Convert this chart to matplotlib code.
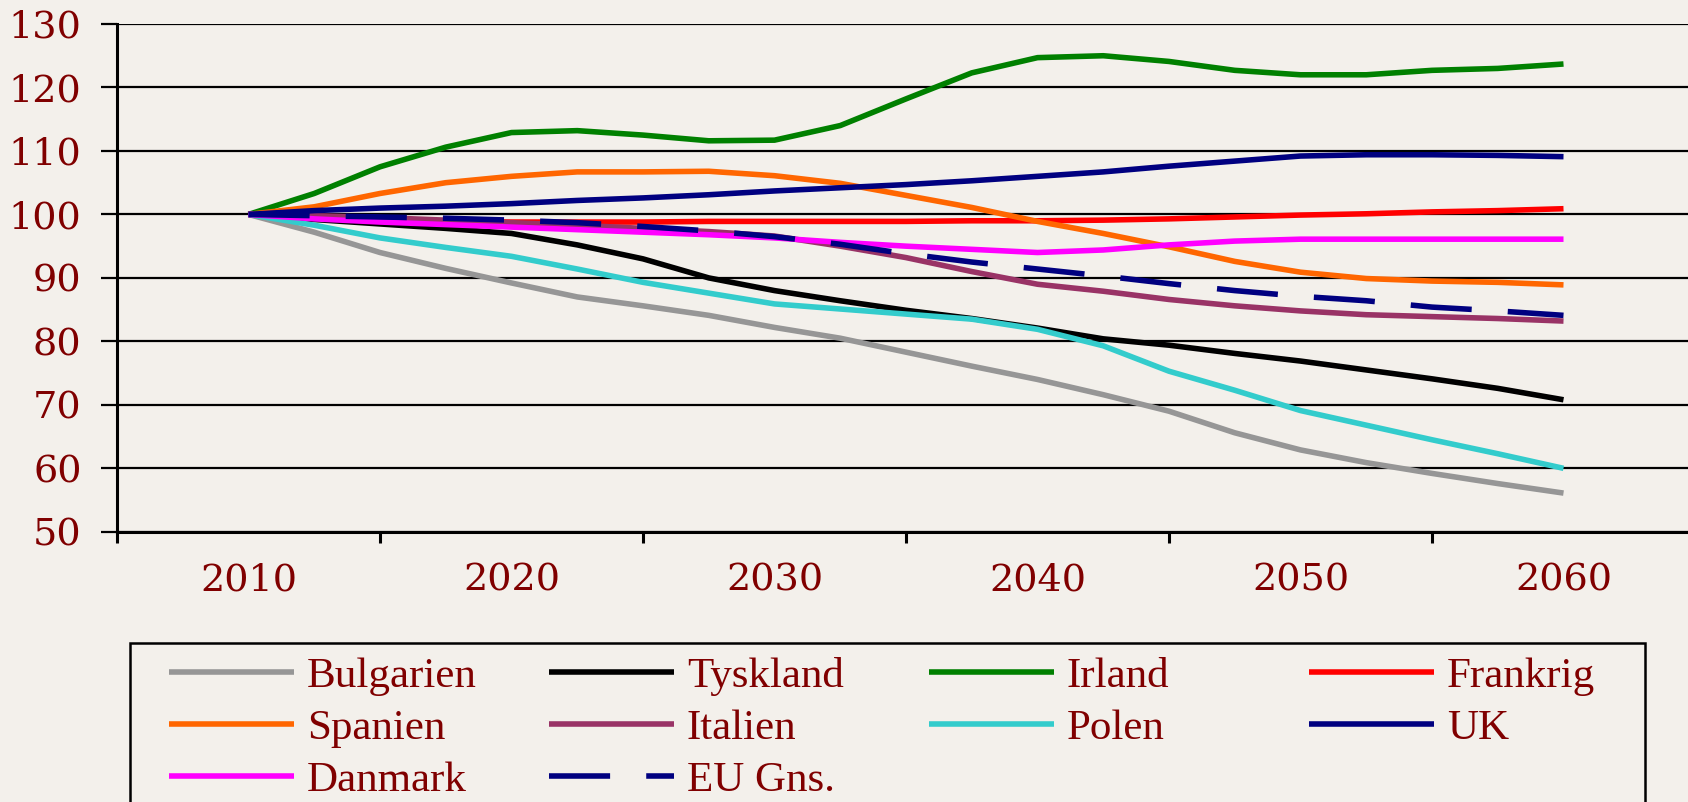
import matplotlib.pyplot as plt
from matplotlib.patches import Rectangle

# years (half-decade steps as in the source chart)
years = [2010, 2012.5, 2015, 2017.5, 2020, 2022.5, 2025, 2027.5, 2030, 2032.5, 2035,
         2037.5, 2040, 2042.5, 2045, 2047.5, 2050, 2052.5, 2055, 2057.5, 2060]

bulgarien = [100, 97.2, 94.0, 91.5, 89.2, 87.0, 85.6, 84.1, 82.2, 80.5, 78.3,
             76.1, 74.0, 71.6, 69.0, 65.6, 62.9, 60.9, 59.2, 57.6, 56.1]
tyskland = [100, 99.2, 98.5, 97.8, 97.0, 95.2, 93.0, 90.0, 88.0, 86.4, 84.9,
            83.6, 82.1, 80.4, 79.4, 78.1, 76.9, 75.5, 74.1, 72.6, 70.8]
irland = [100, 103.3, 107.5, 110.6, 112.9, 113.2, 112.5, 111.6, 111.7, 114.0, 118.2,
          122.3, 124.7, 125.0, 124.1, 122.7, 122.0, 122.0, 122.7, 123.0, 123.7]
frankrig = [100, 99.5, 99.1, 98.9, 98.8, 98.8, 98.8, 98.9, 98.9, 98.9, 98.9,
            99.0, 99.0, 99.1, 99.3, 99.6, 99.9, 100.1, 100.4, 100.6, 100.9]
spanien = [100, 101.2, 103.3, 105.0, 106.0, 106.7, 106.7, 106.8, 106.1, 104.9, 103.0,
           101.1, 98.9, 97.0, 94.9, 92.6, 90.9, 89.9, 89.5, 89.3, 88.9]
italien = [100, 99.8, 99.5, 99.1, 98.7, 98.3, 97.8, 97.3, 96.6, 95.0, 93.2,
           91.0, 89.0, 87.9, 86.6, 85.6, 84.8, 84.2, 83.9, 83.6, 83.2]
polen = [100, 98.3, 96.3, 94.8, 93.4, 91.4, 89.3, 87.6, 85.9, 85.1, 84.3,
         83.5, 81.9, 79.3, 75.3, 72.3, 69.1, 66.8, 64.5, 62.3, 60.0]
uk = [100, 100.6, 101.0, 101.3, 101.7, 102.2, 102.6, 103.1, 103.7, 104.2, 104.7,
      105.3, 106.0, 106.7, 107.6, 108.4, 109.2, 109.4, 109.4, 109.3, 109.1]
danmark = [100, 99.3, 98.8, 98.4, 98.0, 97.6, 97.2, 96.8, 96.3, 95.6, 95.0,
           94.5, 94.0, 94.4, 95.2, 95.8, 96.1, 96.1, 96.1, 96.1, 96.1]
eu_gns = [100, 99.8, 99.6, 99.4, 99.1, 98.7, 98.1, 97.4, 96.5, 95.3, 93.8,
          92.5, 91.4, 90.3, 89.1, 88.0, 87.1, 86.4, 85.4, 84.8, 84.1]

series = [
    ('Bulgarien', bulgarien, '#969696'),
    ('Tyskland', tyskland, '#000000'),
    ('Irland', irland, '#008000'),
    ('Frankrig', frankrig, '#FF0000'),
    ('Spanien', spanien, '#FF6600'),
    ('Italien', italien, '#993366'),
    ('Polen', polen, '#33CCCC'),
    ('UK', uk, '#000080'),
    ('Danmark', danmark, '#FF00FF'),
    ('EU Gns.', eu_gns, '#000080'),
]

label_years = [2010, 2020, 2030, 2040, 2050, 2060]
y_ticks = [50, 60, 70, 80, 90, 100, 110, 120, 130]

bg = '#F3F0EB'
txt = '#800000'
W, H = 1688, 802

fig = plt.figure(figsize=(W / 100, H / 100), dpi=100, facecolor=bg)
ax = fig.add_axes([117 / W, 1 - 531.8 / H, 6 * 263 / W, 507.8 / H])
ax.set_facecolor(bg)

lw = 4.0
lines = {}
for name, vals, col in series:
    if name == 'EU Gns.':
        ln, = ax.plot(years, vals, color=col, lw=lw, dashes=(11, 6.5),
                      dash_capstyle='butt', label=name)
    else:
        ln, = ax.plot(years, vals, color=col, lw=lw, solid_capstyle='butt',
                      label=name)
    lines[name] = ln

ax.set_xlim(2005, 2065)
ax.set_ylim(50, 130)

for s in ['top', 'right']:
    ax.spines[s].set_visible(False)
for s in ['left', 'bottom']:
    ax.spines[s].set_linewidth(2.2)
    ax.spines[s].set_color('black')

ax.set_yticks(y_ticks)
ax.yaxis.grid(True, color='black', lw=1.6)
ax.set_axisbelow(True)
ax.tick_params(axis='y', length=11.5, width=1.6, pad=14, labelcolor=txt,
               labelsize=27.5)

ax.set_xticks(range(2005, 2066, 10))
ax.set_xticklabels([])
ax.set_xticks(label_years, minor=True)
ax.set_xticklabels([str(y) for y in label_years], minor=True)
ax.tick_params(axis='x', which='major', length=8, width=2.2)
ax.tick_params(axis='x', which='minor', length=0, pad=22, labelcolor=txt,
               labelsize=27.5)
for lab in ax.get_yticklabels() + ax.get_xticklabels(minor=True):
    lab.set_family('DejaVu Serif')

# legend: frame drawn as a rectangle, four columns placed separately
frame = Rectangle((130 / W, -0.05), (1645 - 130) / W, 0.05 + 1 - 643 / H,
                  transform=fig.transFigure, fill=False, edgecolor='black',
                  lw=1.8, clip_on=False)
fig.add_artist(frame)

columns = [['Bulgarien', 'Spanien', 'Danmark'],
           ['Tyskland', 'Italien', 'EU Gns.'],
           ['Irland', 'Polen'],
           ['Frankrig', 'UK']]
col_x = [169, 549, 929, 1309]
for names, cx in zip(columns, col_x):
    leg = fig.legend([lines[n] for n in names], names, loc='upper left',
                     bbox_to_anchor=(cx / W, 1 - 657 / H),
                     bbox_transform=fig.transFigure, frameon=False,
                     borderpad=0, borderaxespad=0, handlelength=2.9,
                     handletextpad=0.3, labelspacing=0.3,
                     prop={'family': 'Liberation Serif', 'size': 31})
    for t in leg.get_texts():
        t.set_color(txt)

fig.savefig('out.png', dpi=100, facecolor=bg)
